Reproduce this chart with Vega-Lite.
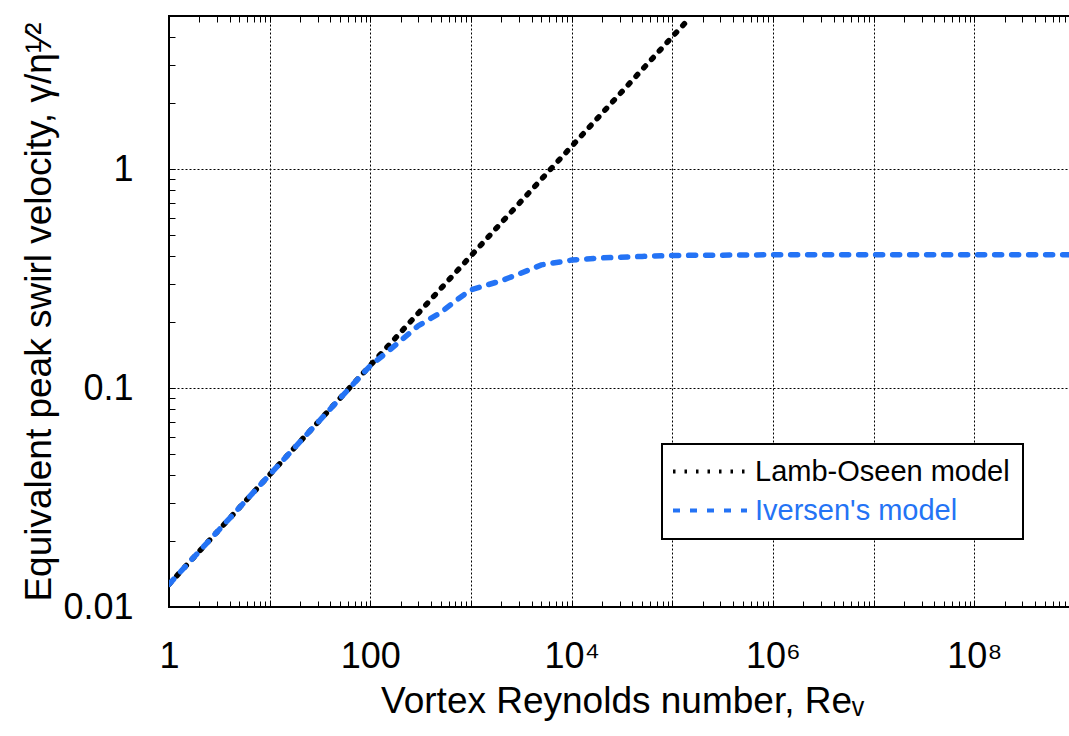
{
  "$schema": "https://vega.github.io/schema/vega-lite/v6.json",
  "width": 906,
  "height": 591,
  "autosize": {"type": "none"},
  "padding": {"left": 169, "top": 16, "right": -6, "bottom": 129},
  "background": "white",
  "config": {
    "view": {"stroke": "black", "strokeWidth": 2},
    "font": "Liberation Sans",
    "axis": {"labelFont": "Liberation Sans", "titleFont": "Liberation Sans", "labelColor": "black", "titleColor": "black", "tickColor": "black", "titleFontWeight": "normal"}
  },
  "data": {
    "values": [
      {"Re": 1, "v": 0.0127, "model": "Lamb-Oseen model"},
      {"Re": 3, "v": 0.022, "model": "Lamb-Oseen model"},
      {"Re": 10, "v": 0.0402, "model": "Lamb-Oseen model"},
      {"Re": 30, "v": 0.0696, "model": "Lamb-Oseen model"},
      {"Re": 100, "v": 0.127, "model": "Lamb-Oseen model"},
      {"Re": 300, "v": 0.22, "model": "Lamb-Oseen model"},
      {"Re": 1000, "v": 0.402, "model": "Lamb-Oseen model"},
      {"Re": 3000, "v": 0.696, "model": "Lamb-Oseen model"},
      {"Re": 10000, "v": 1.27, "model": "Lamb-Oseen model"},
      {"Re": 30000, "v": 2.2, "model": "Lamb-Oseen model"},
      {"Re": 100000, "v": 4.02, "model": "Lamb-Oseen model"},
      {"Re": 132000, "v": 4.61, "model": "Lamb-Oseen model"},
      {"Re": 1, "v": 0.0127, "model": "Iversen's model"},
      {"Re": 10, "v": 0.0402, "model": "Iversen's model"},
      {"Re": 30, "v": 0.0695, "model": "Iversen's model"},
      {"Re": 70, "v": 0.106, "model": "Iversen's model"},
      {"Re": 100, "v": 0.1265, "model": "Iversen's model"},
      {"Re": 150, "v": 0.147, "model": "Iversen's model"},
      {"Re": 200, "v": 0.1645, "model": "Iversen's model"},
      {"Re": 300, "v": 0.1925, "model": "Iversen's model"},
      {"Re": 500, "v": 0.221, "model": "Iversen's model"},
      {"Re": 700, "v": 0.25, "model": "Iversen's model"},
      {"Re": 1000, "v": 0.281, "model": "Iversen's model"},
      {"Re": 2000, "v": 0.309, "model": "Iversen's model"},
      {"Re": 3000, "v": 0.332, "model": "Iversen's model"},
      {"Re": 5000, "v": 0.365, "model": "Iversen's model"},
      {"Re": 10000, "v": 0.384, "model": "Iversen's model"},
      {"Re": 20000, "v": 0.393, "model": "Iversen's model"},
      {"Re": 50000, "v": 0.399, "model": "Iversen's model"},
      {"Re": 100000, "v": 0.403, "model": "Iversen's model"},
      {"Re": 1000000, "v": 0.406, "model": "Iversen's model"},
      {"Re": 10000000, "v": 0.406, "model": "Iversen's model"},
      {"Re": 1000000000, "v": 0.406, "model": "Iversen's model"}
    ]
  },
  "layer": [
    {
      "mark": {"type": "line", "strokeWidth": 5.5, "strokeCap": "round", "clip": true},
      "encoding": {
        "x": {
          "field": "Re", "type": "quantitative",
          "scale": {"type": "log", "domain": [1, 1000000000], "nice": false},
          "axis": {
            "orient": "bottom",
            "title": "Vortex Reynolds number, Reᵥ",
            "titleFontSize": 37,
            "titlePadding": 9,
            "values": [1,2,3,4,5,6,7,8,9,10,20,30,40,50,60,70,80,90,100,200,300,400,500,600,700,800,900,1000,2000,3000,4000,5000,6000,7000,8000,9000,10000,20000,30000,40000,50000,60000,70000,80000,90000,100000,200000,300000,400000,500000,600000,700000,800000,900000,1000000,2000000,3000000,4000000,5000000,6000000,7000000,8000000,9000000,10000000,20000000,30000000,40000000,50000000,60000000,70000000,80000000,90000000,100000000,200000000,300000000,400000000,500000000,600000000,700000000,800000000,900000000,1000000000],
            "labelExpr": "datum.value == 1 ? '1' : datum.value == 100 ? '100' : datum.value == 10000 ? '10⁴' : datum.value == 1000000 ? '10⁶' : datum.value == 100000000 ? '10⁸' : ''",
            "labelFontSize": 36,
            "labelPadding": 38,
            "labelFlush": false,
            "labelOverlap": false,
            "labelBound": false,
            "tickSize": -6,
            "tickWidth": 1,
            "domain": false,
            "grid": true,
            "gridColor": "black",
            "gridDash": [2, 2],
            "gridWidth": 1,
            "gridOpacity": {"condition": {"test": "abs(log(datum.value)/LN10 - round(log(datum.value)/LN10)) < 0.0001", "value": 1}, "value": 0}
          }
        },
        "y": {
          "field": "v", "type": "quantitative",
          "scale": {"type": "log", "domain": [0.01, 5], "nice": false},
          "axis": {
            "orient": "left",
            "title": "Equivalent peak swirl velocity,  γ/η¹⁄²",
            "titleFontSize": 37,
            "titlePadding": 4,
            "values": [0.01,0.02,0.03,0.04,0.05,0.06,0.07,0.08,0.09,0.1,0.2,0.3,0.4,0.5,0.6,0.7,0.8,0.9,1,2,3,4,5],
            "labelExpr": "datum.value == 0.01 ? '0.01' : datum.value == 0.1 ? '0.1' : datum.value == 1 ? '1' : ''",
            "labelFontSize": 36,
            "labelPadding": 42,
            "labelFlush": false,
            "labelOverlap": false,
            "labelBound": false,
            "tickSize": -6,
            "tickWidth": 1,
            "domain": false,
            "grid": true,
            "gridColor": "black",
            "gridDash": [2, 2],
            "gridWidth": 1,
            "gridOpacity": {"condition": {"test": "abs(log(datum.value)/LN10 - round(log(datum.value)/LN10)) < 0.0001", "value": 1}, "value": 0}
          }
        },
        "color": {
          "field": "model", "type": "nominal",
          "scale": {"domain": ["Lamb-Oseen model", "Iversen's model"], "range": ["black", "#2473f5"]},
          "legend": {
            "title": null,
            "orient": "none",
            "legendX": 493,
            "legendY": 428,
            "fillColor": "white",
            "strokeColor": "black",
            "padding": 13,
            "symbolType": "stroke",
            "symbolSize": 400,
            "symbolStrokeWidth": 4,
            "labelFont": "Liberation Sans",
            "labelFontSize": 29,
            "labelLimit": 500,
            "labelOffset": 8,
            "rowPadding": 9,
            "encode": {
              "legend": {"update": {"strokeWidth": {"value": 2}}},
              "symbols": {"update": {"size": {"value": 5476}, "x": {"value": 35}, "y": {"value": 14.5}, "strokeCap": {"value": "butt"}, "strokeDash": {"signal": "datum.value === 'Lamb-Oseen model' ? [4, 3] : [10, 5]"}}},
              "labels": {"update": {"x": {"value": 80}, "y": {"value": 14.5}, "fill": {"signal": "datum.value === 'Lamb-Oseen model' ? 'black' : '#2473f5'"}}}
            }
          }
        },
        "strokeDash": {
          "field": "model", "type": "nominal",
          "scale": {"domain": ["Lamb-Oseen model", "Iversen's model"], "range": [[2.5, 9], [7, 10]]},
          "legend": {
            "title": null,
            "orient": "none",
            "legendX": 493,
            "legendY": 428,
            "fillColor": "white",
            "strokeColor": "black",
            "padding": 13,
            "symbolType": "stroke",
            "symbolSize": 400,
            "symbolStrokeWidth": 4,
            "labelFont": "Liberation Sans",
            "labelFontSize": 29,
            "labelLimit": 500,
            "labelOffset": 8,
            "rowPadding": 9,
            "encode": {
              "legend": {"update": {"strokeWidth": {"value": 2}}},
              "symbols": {"update": {"size": {"value": 5476}, "x": {"value": 35}, "y": {"value": 14.5}, "strokeCap": {"value": "butt"}, "strokeDash": {"signal": "datum.value === 'Lamb-Oseen model' ? [4, 3] : [10, 5]"}}},
              "labels": {"update": {"x": {"value": 80}, "y": {"value": 14.5}, "fill": {"signal": "datum.value === 'Lamb-Oseen model' ? 'black' : '#2473f5'"}}}
            }
          }
        }
      }
    },
    {
      "mark": {"type": "line", "opacity": 0},
      "encoding": {
        "x": {
          "field": "Re", "type": "quantitative",
          "axis": {
            "orient": "top",
            "title": null,
            "values": [1,2,3,4,5,6,7,8,9,10,20,30,40,50,60,70,80,90,100,200,300,400,500,600,700,800,900,1000,2000,3000,4000,5000,6000,7000,8000,9000,10000,20000,30000,40000,50000,60000,70000,80000,90000,100000,200000,300000,400000,500000,600000,700000,800000,900000,1000000,2000000,3000000,4000000,5000000,6000000,7000000,8000000,9000000,10000000,20000000,30000000,40000000,50000000,60000000,70000000,80000000,90000000,100000000,200000000,300000000,400000000,500000000,600000000,700000000,800000000,900000000,1000000000],
            "labels": false,
            "tickSize": -6,
            "tickWidth": 1,
            "domain": false,
            "grid": false
          }
        },
        "y": {
          "field": "v", "type": "quantitative",
          "axis": {
            "orient": "right",
            "title": null,
            "values": [0.01,0.02,0.03,0.04,0.05,0.06,0.07,0.08,0.09,0.1,0.2,0.3,0.4,0.5,0.6,0.7,0.8,0.9,1,2,3,4,5],
            "labels": false,
            "tickSize": -6,
            "tickWidth": 1,
            "domain": false,
            "grid": false
          }
        }
      }
    }
  ]
}
